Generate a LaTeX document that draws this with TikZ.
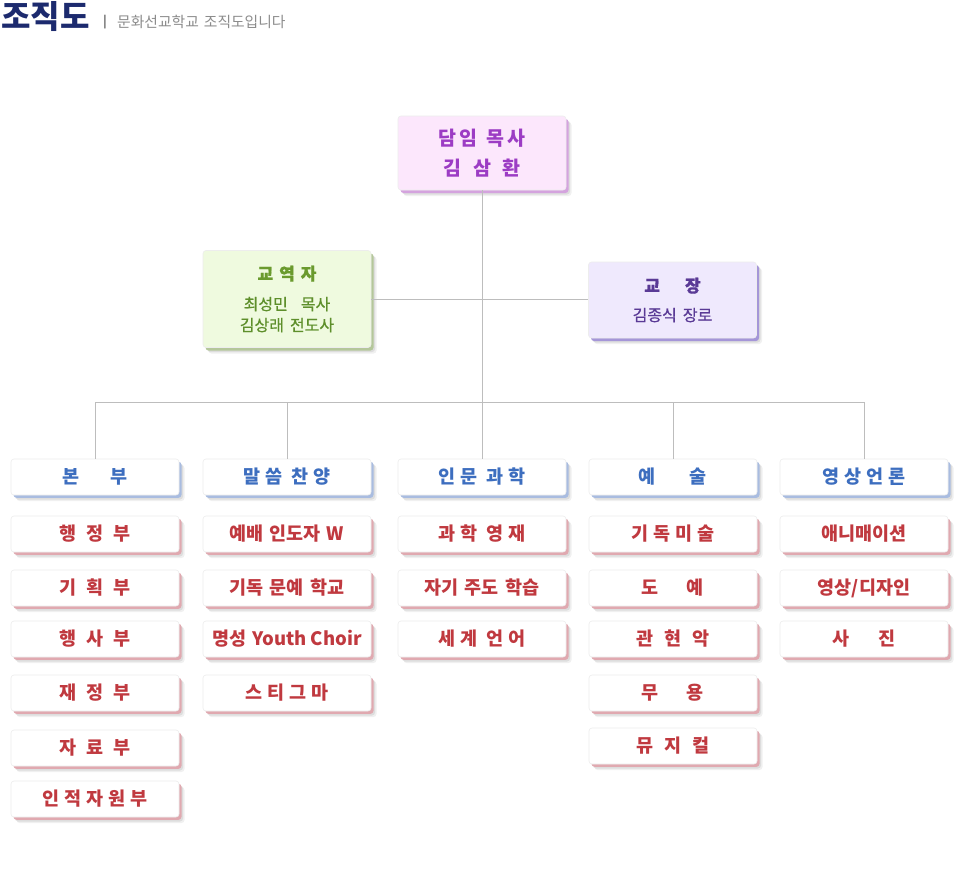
\documentclass[tikz,border=0pt]{standalone}
\usepackage{fontspec}
\setmainfont{Noto Sans CJK KR}
\newfontfamily\namefont{Noto Sans CJK KR}[FakeBold=0.6]
\usetikzlibrary{shadows}
\definecolor{titlec}{HTML}{1C2A6E}
\definecolor{subc}{HTML}{8C8C8C}
\definecolor{linec}{HTML}{BDBDBD}
\definecolor{topfill}{HTML}{FCE7FC}
\definecolor{topsh}{HTML}{D4A3DE}
\definecolor{toptx}{HTML}{9C3CC4}
\definecolor{grnfill}{HTML}{EFFADF}
\definecolor{grnsh}{HTML}{B4C79A}
\definecolor{grntx}{HTML}{6A9A2E}
\definecolor{grnname}{HTML}{5E8F2B}
\definecolor{jfill}{HTML}{EFE9FD}
\definecolor{jsh}{HTML}{A596D8}
\definecolor{jtx}{HTML}{5A3A96}
\definecolor{hdrsh}{HTML}{A9BCE0}
\definecolor{hdrtx}{HTML}{3D6EBF}
\definecolor{subsh}{HTML}{E0A9B0}
\definecolor{subtx}{HTML}{C0393F}
\newcommand\gapp[1]{\hspace{#1pt}}
\tikzset{
  box/.style={rectangle, rounded corners=3pt, minimum width=168pt, minimum height=36pt,
    inner sep=0pt, align=center, draw=black!7, line width=0.6pt},
  blur/.style={general shadow={shadow xshift=5.5pt, shadow yshift=-6pt, fill=black, opacity=0.06},
    general shadow={shadow xshift=4pt, shadow yshift=-4.5pt, fill=black, opacity=0.08}},
  hdr/.style={box, blur, general shadow={shadow xshift=2.5pt, shadow yshift=-2.8pt, fill=hdrsh},
    fill=white, text=hdrtx, font=\fontsize{18.5}{22}\selectfont\bfseries},
  sub/.style={box, blur, general shadow={shadow xshift=2.5pt, shadow yshift=-2.8pt, fill=subsh},
    fill=white, text=subtx, font=\fontsize{18.5}{22}\selectfont\bfseries},
  conn/.style={draw=linec, line width=1pt},
}
\begin{document}
\begin{tikzpicture}[x=1pt, y=-1pt]
\path[use as bounding box, fill=white] (0,0) rectangle (964,895);

% title
\node[anchor=west, inner sep=0pt, text=titlec, font=\fontsize{32}{34}\selectfont\bfseries] (title) at (1,17) {조직도};
\node[anchor=west, inner sep=0pt, text=subc!80!black, font=\fontsize{12}{14}\selectfont\bfseries] (bar) at (103,22.5) {|};
\node[anchor=west, inner sep=0pt, text=subc, font=\fontsize{14.8}{17}\selectfont] (subtitle) at (117,22) {문화선교학교\gapp{5}조직도입니다};

% top level
\node[box, minimum height=74pt, fill=topfill, text=toptx,
  blur, general shadow={shadow xshift=2.5pt, shadow yshift=-3pt, fill=topsh},
  font=\fontsize{19.5}{24}\selectfont\bfseries] (pastor) at (482,153)
  {담\gapp{3.5}임\gapp{9}목\gapp{3.5}사\\[6pt]김\gapp{12}삼\gapp{12}환};

\node[box, minimum height=97pt, fill=grnfill, text=grnname,
  blur, general shadow={shadow xshift=2.5pt, shadow yshift=-3pt, fill=grnsh},
  font=\fontsize{16}{21}\selectfont\namefont] (gyo) at (287,299)
  {{\fontsize{17}{20}\selectfont\bfseries\color{grntx}교\gapp{6}역\gapp{6}자}\\[9pt]최성민\gapp{13}목사\\김상래\gapp{6}전도사};

\node[box, minimum height=76pt, fill=jfill, text=jtx,
  blur, general shadow={shadow xshift=2.5pt, shadow yshift=-3pt, fill=jsh},
  font=\fontsize{16}{21}\selectfont\namefont] (jang) at (672.5,300)
  {{\fontsize{17}{20}\selectfont\bfseries 교\gapp{25}장}\\[8pt]김종식\gapp{6}장로};

% headers
\node[hdr] (h1) at (95,477) {본\gapp{31}부};
\node[hdr] (h2) at (287,477) {말\gapp{5}씀\gapp{9}찬\gapp{5}양};
\node[hdr] (h3) at (482,477) {인\gapp{5}문\gapp{9}과\gapp{5}학};
\node[hdr] (h4) at (673,477) {예\gapp{34}술};
\node[hdr] (h5) at (864,477) {영\gapp{5}상\gapp{5}언\gapp{5}론};

% column 1
\node[sub] (a1) at (95,534) {행\gapp{10}정\gapp{10}부};
\node[sub] (a2) at (95,588) {기\gapp{10}획\gapp{10}부};
\node[sub] (a3) at (95,639) {행\gapp{10}사\gapp{10}부};
\node[sub] (a4) at (95,693) {재\gapp{10}정\gapp{10}부};
\node[sub] (a5) at (95,748) {자\gapp{10}료\gapp{10}부};
\node[sub] (a6) at (95,799) {인\gapp{5}적\gapp{5}자\gapp{5}원\gapp{5}부};

% column 2
\node[sub] (b1) at (287,534) {예배\gapp{6}인도자\gapp{6}W};
\node[sub] (b2) at (287,588) {기독\gapp{6}문예\gapp{6}학교};
\node[sub] (b3) at (287,639) {명성\gapp{6}Youth Choir};
\node[sub] (b4) at (287,693) {스\gapp{5}티\gapp{5}그\gapp{5}마};

% column 3
\node[sub] (c1) at (482,534) {과\gapp{5}학\gapp{9}영\gapp{5}재};
\node[sub] (c2) at (482,588) {자기\gapp{6}주도\gapp{6}학습};
\node[sub] (c3) at (482,639) {세\gapp{5}계\gapp{9}언\gapp{5}어};

% column 4
\node[sub] (d1) at (673,534) {기\gapp{5}독\gapp{5}미\gapp{5}술};
\node[sub] (d2) at (673,588) {도\gapp{28}예};
\node[sub] (d3) at (673,639) {관\gapp{10.5}현\gapp{10.5}악};
\node[sub] (d4) at (673,693) {무\gapp{28}용};
\node[sub] (d5) at (673,746) {뮤\gapp{10.5}지\gapp{10.5}컬};

% column 5
\node[sub] (e1) at (864,534) {애니매이션};
\node[sub] (e2) at (864,588) {영상/디자인};
\node[sub] (e3) at (864,639) {사\gapp{29}진};

% connectors
\coordinate (hub) at (482,402);
\draw[conn] (pastor.south) -- (hub);
\draw[conn] (gyo.east) -- (gyo.east -| jang.west);
\draw[conn] (h1.north) -- (h1.north |- hub) -- (h5.north |- hub) -- (h5.north);
\draw[conn] (h2.north) -- (h2.north |- hub);
\draw[conn] (h3.north) -- (h3.north |- hub);
\draw[conn] (h4.north) -- (h4.north |- hub);
\end{tikzpicture}
\end{document}
